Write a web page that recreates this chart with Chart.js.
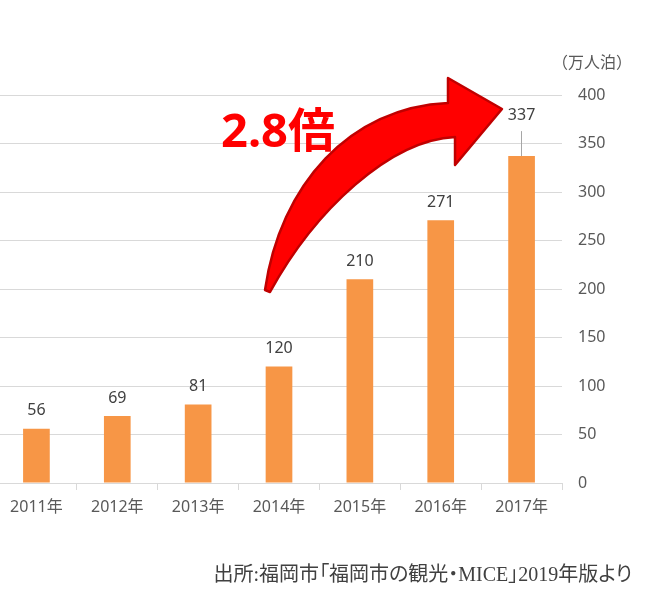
<!DOCTYPE html>
<html lang="ja">
<head>
<meta charset="utf-8">
<script src="https://cdn.jsdelivr.net/npm/chart.js@4.4.1/dist/chart.umd.min.js"></script>
<style>
  html, body { margin: 0; padding: 0; background: #fff; overflow: hidden; }
  #wrap { position: relative; width: 650px; height: 599px; overflow: hidden; }
  #chart { position: absolute; left: -4px; top: 0; }
  #source {
    position: absolute; right: 18px; top: 558px;
    font: 20px "Liberation Serif", "Noto Sans CJK JP", serif;
    font-feature-settings: "palt";
    color: #404040; white-space: nowrap;
  }
</style>
</head>
<body>
<div id="wrap">
  <canvas id="chart" width="654" height="599"></canvas>
  <div id="source">出所:福岡市「福岡市の観光・MICE」2019年版より</div>
</div>
<script>
/* 福岡市 宿泊者数（万人泊） */
const years = ['2011年', '2012年', '2013年', '2014年', '2015年', '2016年', '2017年'];
const stays = [56, 69, 81, 120, 210, 271, 337];
const yTicks = [0, 50, 100, 150, 200, 250, 300, 350, 400];
const unitLabel = '（万人泊）';
const growthLabel = '2.8倍';

const GRAY = '#595959';
const GRID = '#D9D9D9';
const BAR = '#F79646';
const RED = '#FF0000';

// value labels over the bars, the last one lifted with a leader line
const valueLabels = {
  id: 'valueLabels',
  afterDatasetsDraw(chart) {
    const { ctx } = chart;
    const meta = chart.getDatasetMeta(0);
    ctx.save();
    ctx.font = '16px "Noto Sans"';
    ctx.fillStyle = '#404040';
    ctx.textAlign = 'center';
    ctx.textBaseline = 'middle';
    meta.data.forEach((bar, i) => {
      const last = i === meta.data.length - 1;
      const y = bar.y - (last ? 41 : 18);
      ctx.fillText(String(stays[i]), bar.x, y);
      if (last) {
        ctx.strokeStyle = '#A6A6A6';
        ctx.lineWidth = 1;
        ctx.beginPath();
        ctx.moveTo(Math.round(bar.x) - 0.5, y + 16);
        ctx.lineTo(Math.round(bar.x) - 0.5, bar.y);
        ctx.stroke();
      }
    });
    ctx.restore();
  }
};

// unit label over the right axis
const unitTitle = {
  id: 'unitTitle',
  afterDraw(chart) {
    const { ctx, chartArea } = chart;
    ctx.save();
    ctx.font = '16px "Noto Sans CJK JP"';
    ctx.fillStyle = GRAY;
    ctx.textAlign = 'center';
    ctx.textBaseline = 'middle';
    ctx.fillText(unitLabel, chartArea.right + 30, 62);
    ctx.restore();
  }
};

// the red growth arrow and "2.8倍", placed in (category index, value) space
const growthArrow = {
  id: 'growthArrow',
  afterDatasetsDraw(chart) {
    const { ctx, scales: { x, y } } = chart;
    const p = (i, v) => [x.getPixelForValue(i), y.getPixelForValue(v)];

    ctx.save();
    ctx.beginPath();
    ctx.moveTo(...p(2.827, 199));
    ctx.bezierCurveTo(...p(3.012, 307.2), ...p(3.878, 387.6), ...p(5.09, 391.8));
    ctx.lineTo(...p(5.09, 417.5));
    ctx.lineTo(...p(5.758, 385.6));
    ctx.lineTo(...p(5.177, 327.8));
    ctx.lineTo(...p(5.177, 356.7));
    ctx.bezierCurveTo(...p(4.373, 353.6), ...p(3.445, 281.4), ...p(2.889, 196.9));
    ctx.closePath();
    ctx.fillStyle = RED;
    ctx.fill();
    ctx.lineJoin = 'round';
    ctx.lineWidth = 2.5;
    ctx.strokeStyle = '#C00000';
    ctx.stroke();

    const [tx, ty] = p(2.283, 346.4);
    ctx.font = 'bold 47px "Noto Sans", "Noto Sans CJK JP"';
    ctx.fillStyle = RED;
    ctx.textAlign = 'left';
    ctx.textBaseline = 'alphabetic';
    ctx.fillText(growthLabel, tx, ty);
    ctx.restore();
  }
};

new Chart(document.getElementById('chart'), {
  type: 'bar',
  data: {
    labels: years,
    datasets: [{
      data: stays,
      backgroundColor: BAR,
      borderWidth: 0,
      barPercentage: 0.33,
      categoryPercentage: 1,
    }],
  },
  options: {
    responsive: false,
    animation: false,
    devicePixelRatio: 1,
    layout: { padding: { top: 95, left: 0, right: 0, bottom: 0 } },
    plugins: { legend: { display: false }, tooltip: { enabled: false } },
    scales: {
      x: {
        offset: true,
        grid: { display: true, drawOnChartArea: false, drawTicks: true, tickLength: 7, color: GRID, offset: true },
        border: { display: true, color: GRID },
        ticks: { color: GRAY, font: { family: '"Noto Sans", "Noto Sans CJK JP"', size: 16 }, padding: 8, maxRotation: 0 },
        afterFit: s => { s.height = 116; },
      },
      y: {
        position: 'right',
        min: 0,
        max: 400,
        afterBuildTicks: s => { s.ticks = yTicks.map(v => ({ value: v })); },
        grid: { color: GRID, drawTicks: false },
        border: { display: false },
        ticks: { color: GRAY, font: { family: '"Noto Sans"', size: 16 }, padding: 16 },
        afterFit: s => { s.width = 88; },
      },
    },
  },
  plugins: [growthArrow, valueLabels, unitTitle],
});
</script>
</body>
</html>
